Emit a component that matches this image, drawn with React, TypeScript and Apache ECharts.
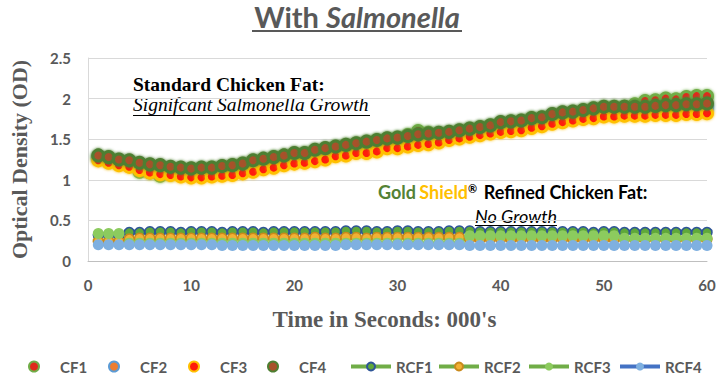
import React, { useEffect, useRef } from 'react';
import * as echarts from 'echarts';

const timeK = [1,2,3,4,5,6,7,8,9,10,11,12,13,14,15,16,17,18,19,20,21,22,23,24,25,26,27,28,29,30,31,32,33,34,35,36,37,38,39,40,41,42,43,44,45,46,47,48,49,50,51,52,53,54,55,56,57,58,59,60];

const cf1 = [1.28,1.26,1.23,1.21,1.10,1.09,1.05,1.07,1.12,1.12,1.13,1.14,1.15,1.17,1.19,1.22,1.24,1.27,1.29,1.31,1.32,1.35,1.37,1.40,1.42,1.44,1.46,1.48,1.50,1.51,1.55,1.60,1.58,1.57,1.58,1.60,1.62,1.64,1.66,1.69,1.71,1.72,1.75,1.76,1.79,1.82,1.83,1.85,1.87,1.89,1.89,1.90,1.93,1.97,1.98,2.00,1.99,2.02,2.03,2.03];
const cf2 = [1.26,1.23,1.21,1.19,1.15,1.12,1.11,1.10,1.09,1.08,1.08,1.09,1.10,1.11,1.13,1.15,1.18,1.20,1.23,1.25,1.26,1.28,1.31,1.34,1.35,1.38,1.39,1.41,1.44,1.45,1.47,1.49,1.50,1.51,1.53,1.55,1.57,1.59,1.61,1.64,1.65,1.67,1.69,1.71,1.74,1.76,1.78,1.80,1.81,1.83,1.83,1.84,1.84,1.85,1.85,1.86,1.86,1.87,1.87,1.88];
const cf3 = [1.24,1.21,1.18,1.16,1.12,1.09,1.07,1.06,1.04,1.03,1.03,1.04,1.05,1.06,1.08,1.10,1.13,1.15,1.18,1.20,1.21,1.23,1.25,1.29,1.30,1.33,1.33,1.35,1.39,1.39,1.41,1.43,1.44,1.46,1.49,1.51,1.53,1.55,1.57,1.59,1.60,1.61,1.64,1.66,1.69,1.71,1.73,1.75,1.76,1.78,1.78,1.79,1.79,1.79,1.80,1.80,1.80,1.81,1.81,1.82];
const cf4 = [1.30,1.28,1.25,1.24,1.21,1.19,1.18,1.16,1.15,1.14,1.15,1.15,1.17,1.18,1.20,1.24,1.26,1.28,1.30,1.33,1.33,1.37,1.39,1.41,1.43,1.45,1.47,1.49,1.51,1.52,1.54,1.56,1.57,1.58,1.59,1.61,1.63,1.65,1.67,1.71,1.72,1.73,1.76,1.77,1.81,1.83,1.84,1.86,1.88,1.90,1.90,1.90,1.90,1.90,1.91,1.92,1.92,1.93,1.93,1.94];

const rcf1 = [0.32,0.32,0.32,0.35,0.35,0.36,0.36,0.36,0.35,0.36,0.36,0.36,0.35,0.36,0.36,0.36,0.35,0.36,0.36,0.36,0.36,0.36,0.36,0.36,0.37,0.37,0.37,0.36,0.36,0.37,0.37,0.36,0.36,0.36,0.37,0.37,0.37,0.36,0.36,0.36,0.36,0.36,0.36,0.36,0.36,0.36,0.36,0.36,0.35,0.36,0.36,0.35,0.35,0.35,0.35,0.35,0.35,0.35,0.35,0.35];
const rcf2 = [0.24,0.24,0.24,0.27,0.28,0.28,0.28,0.28,0.28,0.28,0.28,0.28,0.28,0.28,0.28,0.28,0.28,0.28,0.28,0.28,0.28,0.29,0.28,0.28,0.29,0.29,0.28,0.29,0.29,0.29,0.29,0.29,0.29,0.29,0.29,0.29,0.27,0.27,0.27,0.27,0.27,0.27,0.27,0.27,0.27,0.27,0.27,0.27,0.27,0.27,0.27,0.27,0.27,0.27,0.27,0.27,0.27,0.27,0.27,0.27];
const rcf3 = [0.34,0.34,0.34,0.22,0.22,0.22,0.22,0.22,0.22,0.22,0.22,0.22,0.22,0.22,0.22,0.22,0.22,0.22,0.22,0.22,0.22,0.22,0.22,0.22,0.22,0.22,0.22,0.22,0.22,0.22,0.22,0.22,0.22,0.22,0.22,0.22,0.31,0.31,0.31,0.31,0.31,0.31,0.31,0.31,0.31,0.31,0.31,0.31,0.31,0.31,0.31,0.28,0.28,0.28,0.28,0.28,0.28,0.28,0.28,0.28];
const rcf4 = [0.20,0.20,0.20,0.20,0.20,0.20,0.20,0.20,0.20,0.20,0.20,0.20,0.19,0.19,0.19,0.19,0.19,0.19,0.19,0.19,0.19,0.19,0.19,0.19,0.20,0.20,0.20,0.20,0.20,0.20,0.20,0.20,0.20,0.20,0.20,0.20,0.19,0.19,0.19,0.19,0.19,0.19,0.19,0.19,0.19,0.19,0.19,0.19,0.19,0.19,0.19,0.19,0.19,0.19,0.19,0.19,0.19,0.19,0.19,0.19];

const yTicks = { min: 0, max: 2.5, interval: 0.5 };
const xTicks = { min: 0, max: 60, interval: 10 };

const pair = (ys: number[]) => ys.map((y, i) => [timeK[i], y]);

const GRAY = '#595959';

export default function App() {
  const ref = useRef<HTMLDivElement>(null);
  useEffect(() => {
    if (!ref.current) return;
    const chart = echarts.init(ref.current, undefined, { renderer: 'svg' });
    const cfSeries = (name: string, data: number[], fill: string, ring: string) => ({
      name,
      type: 'scatter',
      data: pair(data),
      symbol: 'circle',
      symbolSize: 11,
      itemStyle: { color: fill, borderColor: ring, borderWidth: 3, opacity: 1, shadowBlur: 3, shadowColor: ring },
    });
    const rcfSeries = (name: string, data: number[], line: string, fill: string, border: string, bw: number, size: number) => ({
      name,
      type: 'line',
      data: pair(data),
      symbol: 'circle',
      symbolSize: size,
      showAllSymbol: true,
      lineStyle: { color: line, width: 3 },
      itemStyle: { color: fill, borderColor: border, borderWidth: bw },
    });
    const legendText = { color: GRAY, fontSize: 15, fontWeight: 'bold', fontFamily: 'Lato' };
    const legendCF = (name: string, left: number) => ({
      data: [name], left, top: 354, itemWidth: 42, itemHeight: 10, symbolKeepAspect: true,
      textStyle: legendText, selectedMode: false,
    });
    const legendRCF = (name: string, left: number) => ({
      data: [name], left, top: 354, itemWidth: 40, itemHeight: 10,
      lineStyle: { width: 4 },
      textStyle: legendText, selectedMode: false,
    });
    chart.setOption({
      animation: false,
      backgroundColor: '#ffffff',
      grid: { left: 72, right: 13, top: 58, bottom: 115, containLabel: false },
      xAxis: {
        type: 'value', ...xTicks,
        axisLine: { show: true, lineStyle: { color: '#BFBFBF', width: 1 } },
        axisTick: { show: false },
        splitLine: { show: false },
        axisLabel: { color: GRAY, fontSize: 15, fontWeight: 'bold', fontFamily: 'Lato', margin: 16 },
        name: "Time in Seconds: 000's",
        nameLocation: 'middle',
        nameGap: 47,
        nameTextStyle: { color: GRAY, fontSize: 23, fontWeight: 'bold', fontFamily: 'Liberation Serif', padding: [0, 26, 0, 0] },
      },
      yAxis: {
        type: 'value', ...yTicks,
        axisLine: { show: true, lineStyle: { color: '#D9D9D9', width: 1 } },
        axisTick: { show: false },
        splitLine: { show: true, lineStyle: { color: '#D9D9D9', width: 1 } },
        axisLabel: { color: GRAY, fontSize: 15, fontWeight: 'bold', fontFamily: 'Lato', margin: 17 },
        name: 'Optical Density (OD)',
        nameLocation: 'middle',
        nameGap: 58,
        nameTextStyle: { color: GRAY, fontSize: 22, fontWeight: 'bold', fontFamily: 'Liberation Serif' },
      },
      legend: [
        legendCF('CF1', 23),
        legendCF('CF2', 103),
        legendCF('CF3', 183),
        legendCF('CF4', 262),
        legendRCF('RCF1', 344),
        legendRCF('RCF2', 432),
        legendRCF('RCF3', 522),
        legendRCF('RCF4', 613),
      ],
      series: [
        cfSeries('CF1', cf1, '#E02A1C', '#70AD47'),
        cfSeries('CF2', cf2, '#ED7D31', '#5B9BD5'),
        cfSeries('CF3', cf3, '#FF1A0A', '#FFC000'),
        cfSeries('CF4', cf4, '#A8512A', '#4E7F32'),
        rcfSeries('RCF1', rcf1, '#70AD47', '#5FA83A', '#2E5597', 1.5, 10),
        rcfSeries('RCF2', rcf2, '#70AD47', '#F2B134', '#C98A1C', 1.5, 10),
        rcfSeries('RCF3', rcf3, '#70AD47', '#8CCB5E', '#8CCB5E', 0, 11),
        rcfSeries('RCF4', rcf4, '#4472C4', '#7FB0E0', '#7FB0E0', 0, 11),
      ],
      graphic: [
        {
          type: 'text', x: 357, y: 16,
          style: {
            text: '{a|With }{b|Salmonella}',
            textAlign: 'center',
            textVerticalAlign: 'middle',
            rich: {
              a: { fontSize: 29, fontWeight: 'bold', fontFamily: 'Lato', fill: GRAY },
              b: { fontSize: 29, fontWeight: 'bold', fontStyle: 'italic', fontFamily: 'Lato', fill: GRAY },
            },
          },
        },
        { type: 'line', shape: { x1: 252, y1: 31, x2: 462, y2: 31 }, style: { stroke: GRAY, lineWidth: 2 } },
        {
          type: 'text', x: 133, y: 84,
          style: { text: 'Standard Chicken Fat:', font: 'bold 19.5px "Liberation Serif"', fill: '#000', textVerticalAlign: 'middle' },
        },
        {
          type: 'text', x: 133, y: 104,
          style: { text: 'Signifcant Salmonella Growth', font: 'italic 19.5px "Liberation Serif"', fill: '#000', textVerticalAlign: 'middle' },
        },
        { type: 'line', shape: { x1: 133, y1: 115.5, x2: 370, y2: 115.5 }, style: { stroke: '#000', lineWidth: 1 } },
        {
          type: 'text', x: 378, y: 192,
          style: {
            text: '{g|Gold} {s|Shield}{r|®}  {k|Refined Chicken Fat:}',
            textVerticalAlign: 'middle',
            rich: {
              g: { fontSize: 18, fontWeight: 'bold', fontFamily: 'Lato', fill: '#548235' },
              s: { fontSize: 18, fontWeight: 'bold', fontFamily: 'Lato', fill: '#FFC000' },
              r: { fontSize: 11, fontWeight: 'bold', fontFamily: 'Lato', fill: '#000', verticalAlign: 'top' },
              k: { fontSize: 18, fontWeight: 'bold', fontFamily: 'Lato', fill: '#000' },
            },
          },
        },
        {
          type: 'text', x: 475, y: 216,
          style: { text: 'No Growth', font: 'italic 18px Lato', fill: '#000', textVerticalAlign: 'middle' },
        },
        { type: 'line', shape: { x1: 475, y1: 225.5, x2: 557, y2: 225.5 }, style: { stroke: '#000', lineWidth: 1 } },
      ],
    });
    return () => chart.dispose();
  }, []);
  return <div ref={ref} style={{ position: 'absolute', left: 0, top: 0, width: 720, height: 376 }} />;
}
